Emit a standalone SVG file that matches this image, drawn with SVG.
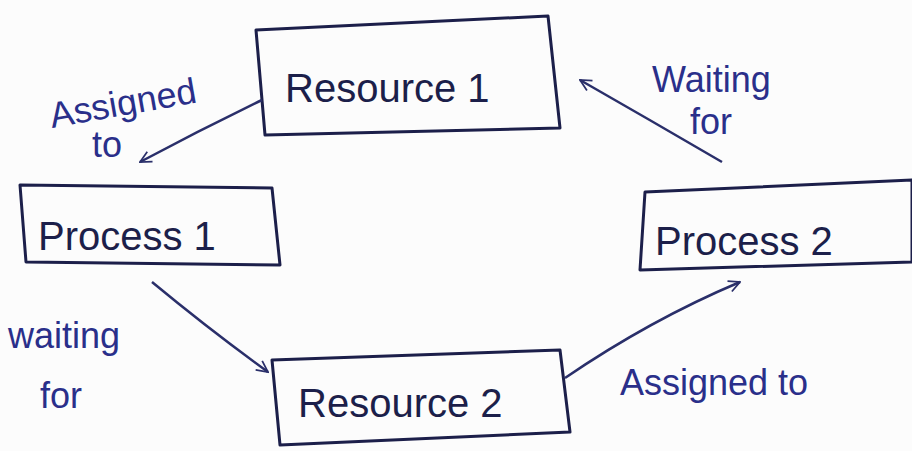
<svg xmlns="http://www.w3.org/2000/svg" width="912" height="451" viewBox="0 0 912 451">
<defs>
<style>
.box{fill:none;stroke:#1c1f4a;stroke-width:3;stroke-linejoin:round}
.lbl{font-family:"Liberation Sans","DejaVu Sans",sans-serif;fill:#1c1f4a;font-size:40px}
.ann{font-family:"Liberation Sans","DejaVu Sans",sans-serif;fill:#2a2f8a;font-size:36px}
.edge{fill:none;stroke:#2a2f6a;stroke-width:2.5}
</style>
<marker id="ah" viewBox="0 0 20 20" refX="18" refY="10" markerWidth="14" markerHeight="14" orient="auto" markerUnits="userSpaceOnUse">
<path d="M2,2 L18,10 L2,18" fill="none" stroke="#2a2f6a" stroke-width="2.5"/>
</marker>
</defs>
<rect width="912" height="451" fill="#fcfcfc"/>
<g id="resource1">
<path class="box" d="M256,30 L548,16 L560,128 L265,135 Z"/>
<text class="lbl" x="285" y="102">Resource 1</text>
</g>
<g id="process1">
<path class="box" d="M20,185 L272,188 L280,265 L26,262 Z"/>
<text class="lbl" x="38" y="250">Process 1</text>
</g>
<g id="process2">
<path class="box" d="M645,192 L912,180 L912,262 L640,270 Z"/>
<text class="lbl" x="655" y="255">Process 2</text>
</g>
<g id="resource2">
<path class="box" d="M272,360 L560,350 L570,432 L280,445 Z"/>
<text class="lbl" x="298" y="417">Resource 2</text>
</g>
<g id="connectors">
<path class="edge" d="M262,100 Q200,130 140,162" marker-end="url(#ah)"/>
<path class="edge" d="M722,162 Q650,120 580,80" marker-end="url(#ah)"/>
<path class="edge" d="M152,282 Q210,330 268,372" marker-end="url(#ah)"/>
<path class="edge" d="M565,378 Q650,320 740,282" marker-end="url(#ah)"/>
</g>
<g id="labels">
<text class="ann" x="52" y="128" transform="rotate(-10 52 128)">Assigned</text>
<text class="ann" x="92" y="157">to</text>
<text class="ann" x="652" y="92">Waiting</text>
<text class="ann" x="690" y="134">for</text>
<text class="ann" x="8" y="348">waiting</text>
<text class="ann" x="40" y="408">for</text>
<text class="ann" x="620" y="395">Assigned to</text>
</g>
</svg>
